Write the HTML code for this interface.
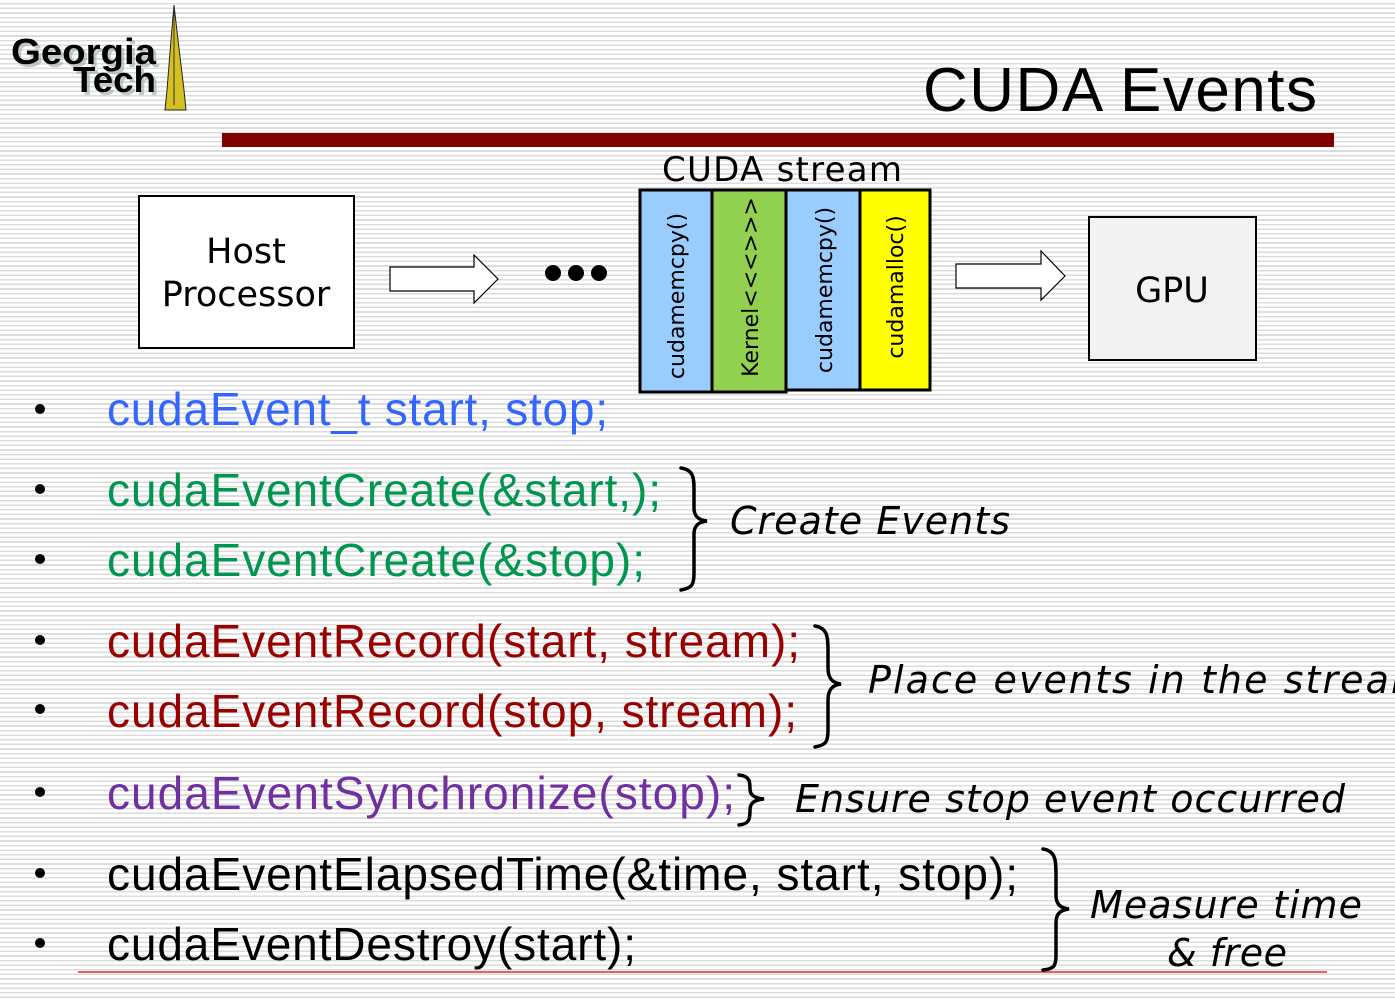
<!DOCTYPE html>
<html><head><meta charset="utf-8"><style>
html,body{margin:0;padding:0;}
body{width:1395px;height:999px;overflow:hidden;background:#fff repeating-linear-gradient(to bottom,#fff 0px,#fff 3px,#dcdcdc 3px,#dcdcdc 4.6px);}
svg{position:absolute;left:0;top:0;}
.c{font-family:"Liberation Sans",Arial,sans-serif;font-size:46px;}
.v{font-family:"DejaVu Sans",Verdana,sans-serif;}
.i{font-family:"DejaVu Sans",Verdana,sans-serif;font-style:italic;font-size:38px;fill:#000;}
</style></head><body>
<svg width="1395" height="999" viewBox="0 0 1395 999">
<!-- logo -->
<g font-family="Liberation Sans,Arial,sans-serif" font-weight="bold" font-size="36">
<text x="14" y="67" fill="#9aa" opacity="0.6" textLength="145" lengthAdjust="spacingAndGlyphs">Georgia</text>
<text x="11" y="64" fill="#000" textLength="145" lengthAdjust="spacingAndGlyphs">Georgia</text>
<text x="76" y="95" fill="#9aa" opacity="0.6" textLength="83" lengthAdjust="spacingAndGlyphs">Tech</text>
<text x="73" y="92" fill="#000" textLength="83" lengthAdjust="spacingAndGlyphs">Tech</text>
</g>
<polygon points="174,5 178,40 184,90 186,110 165,110 167,90 171,40" fill="#d4c020" stroke="#222" stroke-width="1"/>
<line x1="174" y1="8" x2="174" y2="105" stroke="#333" stroke-width="1"/>
<!-- title -->
<text x="923" y="111" font-family="Liberation Sans,Arial,sans-serif" font-size="62" textLength="394">CUDA Events</text>
<rect x="222" y="133" width="1112" height="14" fill="#800000"/>
<!-- host -->
<rect x="139" y="196" width="215" height="152" fill="#fff" stroke="#000" stroke-width="2"/>
<text class="v" x="246" y="263" font-size="35" text-anchor="middle">Host</text>
<text class="v" x="246" y="306" font-size="35" text-anchor="middle">Processor</text>
<polygon points="390,267 474,267 474,255 498,279 474,303 474,291 390,291" fill="#fff" stroke="#000" stroke-width="1.2"/>
<circle cx="553" cy="273" r="8"/><circle cx="576" cy="273" r="8"/><circle cx="599" cy="273" r="8"/>
<text class="v" x="662" y="181" font-size="34" textLength="240">CUDA stream</text>
<rect x="640" y="190" width="72" height="202" fill="#99ccff" stroke="#000" stroke-width="3"/>
<rect x="712" y="190" width="74" height="202" fill="#92d050" stroke="#000" stroke-width="3"/>
<rect x="786" y="190" width="74" height="200" fill="#99ccff" stroke="#000" stroke-width="3"/>
<rect x="860" y="190" width="70" height="200" fill="#ffff00" stroke="#000" stroke-width="3"/>
<g class="v" font-size="22" text-anchor="middle">
<text transform="translate(684,296) rotate(-90)">cudamemcpy()</text>
<text transform="translate(758,287) rotate(-90)">Kernel&lt;&lt;&lt;&gt;&gt;&gt;</text>
<text transform="translate(832,290) rotate(-90)">cudamemcpy()</text>
<text transform="translate(903,287) rotate(-90)">cudamalloc()</text>
</g>
<polygon points="956,264 1041,264 1041,251 1065,276 1041,300 1041,288 956,288" fill="#fff" stroke="#000" stroke-width="1.2"/>
<rect x="1089" y="217" width="167" height="143" fill="#f2f2f2" stroke="#000" stroke-width="2"/>
<text class="v" x="1172" y="302" font-size="35" text-anchor="middle">GPU</text>
<!-- bullets -->
<g fill="#000">
<circle cx="40" cy="409" r="5"/><circle cx="40" cy="489" r="5"/><circle cx="40" cy="559" r="5"/>
<circle cx="40" cy="640" r="5"/><circle cx="40" cy="709" r="5"/><circle cx="40" cy="792" r="5"/>
<circle cx="40" cy="873" r="5"/><circle cx="40" cy="943" r="5"/>
</g>
<text class="c" x="107" y="425" fill="#3366ff" textLength="501">cudaEvent_t start, stop;</text>
<text class="c" x="107" y="506" fill="#009650" textLength="554">cudaEventCreate(&amp;start,);</text>
<text class="c" x="107" y="576" fill="#009650" textLength="538">cudaEventCreate(&amp;stop);</text>
<text class="c" x="107" y="657" fill="#990000" textLength="693">cudaEventRecord(start, stream);</text>
<text class="c" x="107" y="727" fill="#990000" textLength="690">cudaEventRecord(stop, stream);</text>
<text class="c" x="107" y="809" fill="#7030a0" textLength="628">cudaEventSynchronize(stop);</text>
<text class="c" x="107" y="890" fill="#000" textLength="911">cudaEventElapsedTime(&amp;time, start, stop);</text>
<text class="c" x="107" y="960" fill="#000" textLength="529">cudaEventDestroy(start);</text>
<!-- braces -->
<g fill="none" stroke="#000" stroke-width="3.5" stroke-linecap="round">
<path d="M681,468 C695,470 694,480 694,495 L694,508 C694,516 698,520 707,521 C698,522 694,526 694,534 L694,573 C694,585 692,588 681,590"/>
<path d="M815,626 C828,628 828,638 828,652 L828,668 C828,678 832,683 841,684 C832,685 828,690 828,700 L828,730 C828,742 826,745 815,747"/>
<path d="M739,775 C750,776 750,782 750,789 C750,795 754,798 764,799 C754,800 750,803 750,810 C750,818 750,824 739,825"/>
<path d="M1043,849 C1056,851 1056,861 1056,876 L1056,895 C1056,904 1060,908 1069,909 C1060,910 1056,914 1056,923 L1056,955 C1056,966 1054,969 1043,970"/>
</g>
<text class="i" x="730" y="534" textLength="280">Create Events</text>
<text class="i" x="868" y="693" textLength="560">Place events in the stream</text>
<text class="i" x="795" y="812" textLength="550">Ensure stop event occurred</text>
<text class="i" x="1090" y="918" textLength="272">Measure time</text>
<text class="i" x="1167" y="966" textLength="120">&amp; free</text>
<line x1="78" y1="972" x2="1327" y2="972" stroke="#e00000" stroke-width="1.2"/>
</svg>
</body></html>
